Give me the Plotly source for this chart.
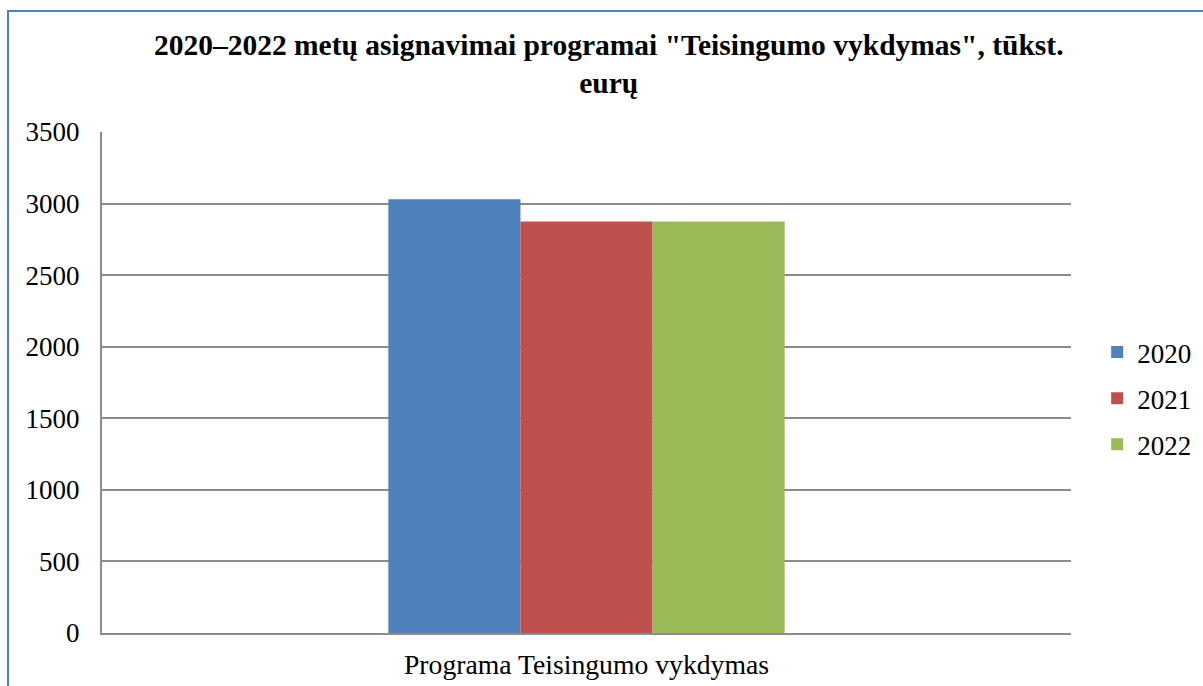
import plotly.graph_objects as go

categories = ["Programa Teisingumo vykdymas"]
years = ["2020", "2021", "2022"]
values_2020 = [3030]
values_2021 = [2875]
values_2022 = [2875]
colors = ["#4F81BD", "#C0504D", "#9BBB59"]
y_ticks = [0, 500, 1000, 1500, 2000, 2500, 3000, 3500]

series = [values_2020, values_2021, values_2022]
serif = "Liberation Serif, Times New Roman, serif"

fig = go.Figure()
for i, (yr, vals) in enumerate(zip(years, series)):
    fig.add_trace(go.Bar(x=categories, y=vals, name=yr, marker_color=colors[i],
                         marker_line_width=0, legendgroup=yr))

W, H = 1203, 686
L, R, T, B = 102, 1071, 132, 633
fig.update_layout(
    width=W, height=H,
    margin=dict(l=L, r=W - R, t=T, b=H - B, autoexpand=False),
    paper_bgcolor="white", plot_bgcolor="white",
    barmode="group", bargap=0.591, bargroupgap=0,
    font=dict(family=serif, size=27, color="black"),
    title=dict(text="<b>2020–2022 metų asignavimai programai \"Teisingumo vykdymas\", tūkst.<br>eurų</b>",
               x=0.506, xanchor="center", xref="container",
               y=1 - 55 / H, yanchor="top", yref="container",
               font=dict(family=serif, size=29.5, color="black")),
    showlegend=True,
    legend=dict(x=1.027, xanchor="left", y=0.468, yanchor="middle",
                font=dict(family=serif, size=27), traceorder="grouped",
                tracegroupgap=8, bgcolor="rgba(0,0,0,0)"),
    shapes=[dict(type="rect", xref="paper", yref="paper",
                 x0=(8 - L) / (R - L), x1=1.3, y0=-0.3, y1=(B - 11) / (B - T),
                 line=dict(color="#4F81BD", width=2), layer="above")],
)
fig.update_xaxes(showgrid=False, showline=True, linecolor="#8C8C8C", linewidth=2,
                 ticks="", ticklabelstandoff=6, tickfont=dict(family=serif, size=27.7),
                 range=[-0.5, 0.5])
fig.update_yaxes(range=[0, 3500], tickvals=y_ticks, showgrid=True, gridcolor="#8C8C8C",
                 gridwidth=2, showline=True, linecolor="#8C8C8C", linewidth=2,
                 ticks="", ticklabelstandoff=15, zeroline=False,
                 tickfont=dict(family=serif, size=27))

fig.write_html("out.html", config={"displayModeBar": False},
               post_script="document.body.style.margin='0';document.body.style.overflow='hidden';")
